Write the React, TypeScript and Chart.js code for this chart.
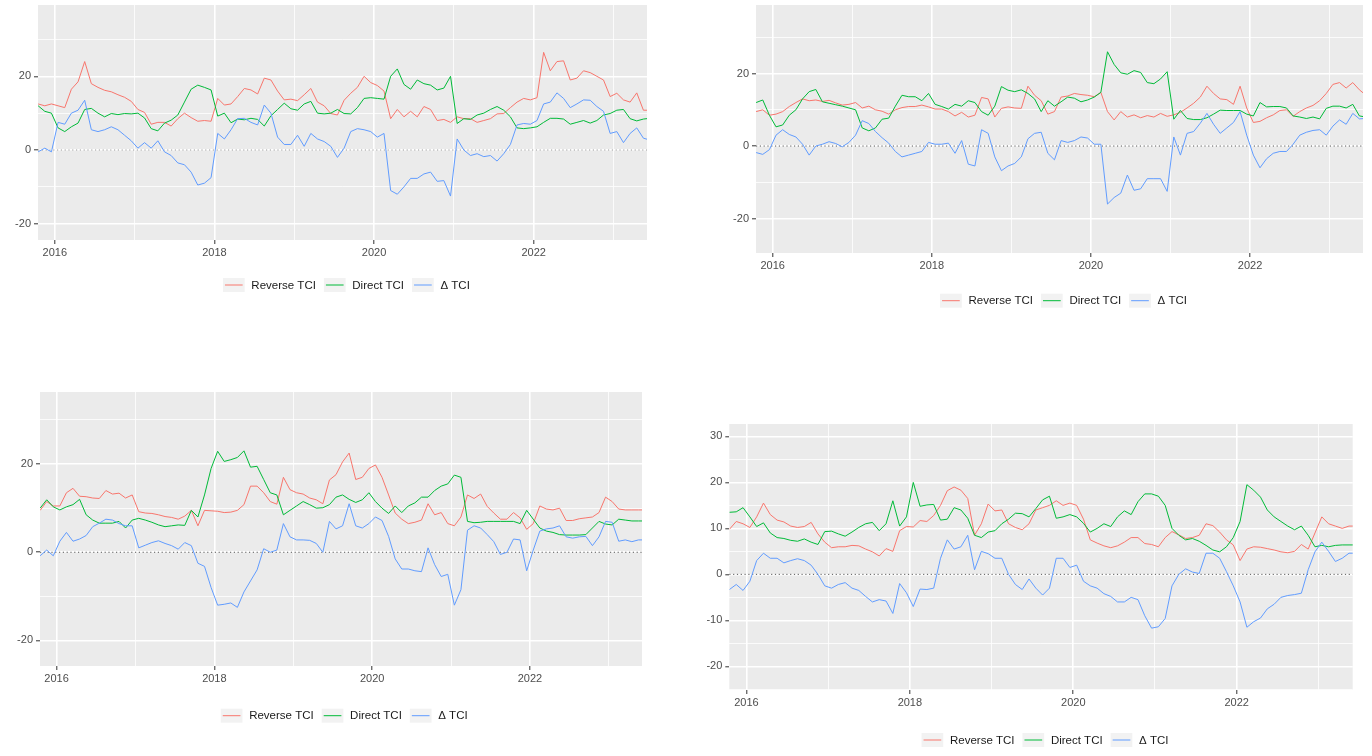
import React, { useEffect, useRef } from "react";
import { Chart, registerables } from "chart.js";

Chart.register(...registerables);

const FONT = "'Liberation Sans', Arial, Helvetica, sans-serif";

// Monthly observation dates (mid-month)
const MONTHS = [
  "2015-10", "2015-11", "2015-12",
  "2016-01", "2016-02", "2016-03", "2016-04", "2016-05", "2016-06", "2016-07", "2016-08", "2016-09", "2016-10", "2016-11", "2016-12",
  "2017-01", "2017-02", "2017-03", "2017-04", "2017-05", "2017-06", "2017-07", "2017-08", "2017-09", "2017-10", "2017-11", "2017-12",
  "2018-01", "2018-02", "2018-03", "2018-04", "2018-05", "2018-06", "2018-07", "2018-08", "2018-09", "2018-10", "2018-11", "2018-12",
  "2019-01", "2019-02", "2019-03", "2019-04", "2019-05", "2019-06", "2019-07", "2019-08", "2019-09", "2019-10", "2019-11", "2019-12",
  "2020-01", "2020-02", "2020-03", "2020-04", "2020-05", "2020-06", "2020-07", "2020-08", "2020-09", "2020-10", "2020-11", "2020-12",
  "2021-01", "2021-02", "2021-03", "2021-04", "2021-05", "2021-06", "2021-07", "2021-08", "2021-09", "2021-10", "2021-11", "2021-12",
  "2022-01", "2022-02", "2022-03", "2022-04", "2022-05", "2022-06", "2022-07", "2022-08", "2022-09", "2022-10", "2022-11", "2022-12",
  "2023-01", "2023-02", "2023-03", "2023-04", "2023-05", "2023-06",
];

const SERIES_LABELS = ["Reverse TCI", "Direct TCI", "\u0394 TCI"];
const SERIES_COLORS = ["#F8766D", "#00BA38", "#619CFF"];

const X_TICKS = [2016, 2017, 2018, 2019, 2020, 2021, 2022, 2023];
const X_LABELED = [2016, 2018, 2020, 2022];
const X_MIN = 2015.79;
const X_MAX = 2023.42;

const Y_TICKS_A = [-20, -10, 0, 10, 20, 30];
const Y_MAJOR_A = [-20, 0, 20];
const Y_TICKS_B = [-25, -20, -15, -10, -5, 0, 5, 10, 15, 20, 25, 30];
const Y_MAJOR_B = [-20, -10, 0, 10, 20, 30];

// ---------- Panel 1 (top-left) ----------
const P1_REVERSE = [
  12.5, 12, 12.5, 12, 11.5, 16.5, 18.5, 24, 18, 17,
  16.2, 15.8, 15, 14.3, 13.2, 11, 10.2, 7, 7.5, 7.5,
  6.5, 8.5, 10, 8.8, 7.8, 8, 7.8, 14, 12.2, 12.5,
  14.5, 16.7, 16.3, 15.2, 19.5, 19, 16, 13.6, 13.8, 13.4,
  15, 16.7, 13, 12, 9.9, 9.5, 13.5, 15.4, 17, 20,
  18.3, 17.5, 16, 8.5, 11, 9, 10.5, 9, 11.8, 11,
  8, 8.3, 7.5, 9, 8.5, 8.5, 7.5, 8, 8.5, 9.8,
  9.9, 11.5, 13, 14, 13.6, 14.2, 26.5, 21.5, 24, 24.2,
  19, 19.5, 21.5, 21, 20, 19, 14.5, 15.4, 13.6, 13,
  15.5, 10.8, 10.8,
];
const P1_DIRECT = [
  12, 10.5, 10, 6, 5, 6.3, 7.3, 11, 11.3, 10,
  9, 9.9, 9.6, 9.9, 9.8, 10, 8.7, 5.8, 5.2, 7.3,
  8.1, 9.5, 13, 16.5, 17.6, 17, 16.3, 9.2, 10, 7.4,
  8.4, 8.2, 8.6, 8.3, 6.5, 9.3, 11, 12.7, 11.2, 10.8,
  12.5, 13.2, 10, 9.8, 10, 11, 9.9, 9.8, 11.5, 14,
  14.2, 14, 13.8, 20, 22, 17.8, 16.5, 19, 18, 17.6,
  16.3, 16.8, 20, 7.2, 8.5, 8.3, 9.5, 10, 11, 11.8,
  10.8, 9, 6, 5.8, 6, 6.3, 7.5, 8.6, 8.6, 8.4,
  7, 7.5, 8, 7.3, 8, 9.5, 9.9, 10.8, 11, 8.5,
  7.9, 8.4, 8.6,
];
const P1_DELTA = [
  -0.5, 0.5, -0.5, 7.5, 7, 10, 10.8, 13.5, 5.5, 5,
  5.5, 6.3, 5.5, 4, 2.5, 0.5, 2, 0.5, 2.5, -0.5,
  -1.5, -3.5, -4, -6, -9.5, -9, -7.5, 4.5, 3, 5.5,
  8.5, 8.6, 7.5, 6.8, 12.2, 10, 3.5, 1.5, 1.5, 4,
  1, 4.5, 3, 2.3, 1, -2, 0.5, 5, 5.8, 5.5,
  5, 3.5, 4.5, -11, -12, -10, -7.7, -7.7, -6.5, -6,
  -8.5, -8.3, -12.5, 3, 0, -1.5, -1, -1.8, -1.5, -3,
  -1, 1.5, 6.8, 7.2, 7, 8, 12.5, 13, 15.5, 14,
  11.5, 12.5, 13.6, 13.5, 11.8, 10.5, 4.5, 5, 2, 4.5,
  6, 3.2, 2.7,
];

// ---------- Panel 2 (top-right) ----------
const P2_REVERSE = [
  9.5, 10, 8.5, 8.8, 9.5, 10.9, 12, 13, 12.5, 12.7,
  12.3, 12.6, 11.9, 11.3, 11.5, 12, 10.5, 11, 10, 9.6,
  8.8, 10, 10.6, 10.9, 10.9, 11.3, 10.8, 10.2, 10.2, 9.5,
  8.3, 9.3, 8, 8.5, 13.4, 13, 8, 10.4, 10.8, 10.5,
  10.4, 16.5, 14, 12.5, 8.8, 9.5, 13.5, 13.8, 14.5, 14.2,
  14, 13.6, 14.8, 9.5, 7.2, 9.5, 8, 8.6, 7.8, 8.4,
  8, 9, 8.2, 8.6, 9.3, 10.5, 11.8, 13.5, 16.5, 14.5,
  13, 12.8, 11.5, 16.5, 10.5, 6.5, 6.8, 7.8, 8.6, 9.8,
  10, 8.2, 9.5, 10.5, 11.2, 12.5, 14.5, 17, 17.5, 16,
  17.5, 15.5, 14,
];
const P2_DIRECT = [
  12, 12.7, 8.5, 5.3, 5.8, 8.5, 10, 13, 15, 15.6,
  12.2, 11.8, 11.4, 11, 10.5, 10, 5, 4.2, 5, 7.4,
  7.7, 11, 14, 13.6, 13.6, 12.5, 14.5, 11.5, 10.9, 10.2,
  11.5, 11, 12.5, 12, 9.5, 8.5, 11, 16.4, 15.4, 15,
  15.5, 14.5, 13, 9.5, 12.5, 11, 12.2, 13.5, 13.2, 12.2,
  12.7, 13.5, 14.8, 26, 22.5, 20.2, 19.8, 20.8, 20.3, 17.5,
  17.2, 18.5, 20.5, 7.4, 9.8, 7.6, 7.3, 7.3, 7.8, 8.8,
  9.9, 9.8, 9.8, 9.8, 8.8, 8.3, 12, 10.8, 10.9, 10.9,
  10.5, 8.3, 8, 7.6, 8, 7.5, 10.4, 11, 11, 10.5,
  11.5, 8.3, 8,
];
const P2_DELTA = [
  -1.8, -2.3, -1, 3, 4.5, 3.2, 2.5, 0.5, -2.5, 0,
  0.5, 1.2, 0.7, -0.2, 1, 3, 7, 6.2, 4, 2.3,
  0.8, -1.5, -3, -2.5, -2, -1.5, 1, 0.5, 0.5, 0.8,
  -2, 1.5, -5, -5.5, 4.5, 3.5, -3, -6.8, -5.5, -4.8,
  -3, 2, 3.5, 3.8, -2, -3.8, 1.5, 1, 1.5, 2.5,
  2.2, 0.5, 0.5, -16, -14.2, -13, -8, -12.2, -11.8, -9,
  -9, -9, -12.5, 2.5, -2.5, 3.5, 4, 6.3, 9, 6,
  3.5, 5, 6.5, 9.5, 3, -2.5, -6, -3.5, -2, -1.5,
  -1.5, 0.5, 3, 3.8, 4.3, 4.5, 3, 5.5, 7.2, 6,
  9, 7.5, 7.6,
];

// ---------- Panel 3 (bottom-left) ----------
const P3_REVERSE = [
  9.5, 11.5, 10.5, 10.5, 13.5, 14.5, 12.7, 12.6, 12.3, 12.2,
  14, 13.2, 13.4, 12.3, 13, 9.2, 8.9, 8.8, 8.5, 8.1,
  7.9, 7.5, 8.2, 9.5, 6, 9.5, 9.4, 9.3, 9, 9.1,
  9.5, 10.8, 15, 15, 13.5, 11.5, 10.9, 17, 14.2, 13.5,
  13.2, 12.3, 11.9, 11, 16.4, 17.6, 20.5, 22.5, 16.5, 17,
  19, 19.8, 17, 13, 8.9, 7.5, 6.5, 6.8, 7.3, 11,
  8.5, 9, 6.5, 6, 8, 13, 12.2, 13.2, 10.4, 8.9,
  7.5, 7.5, 9, 7.8, 5.2, 6.5, 10.5, 9.8, 9.6, 10,
  7.2, 7.2, 7.6, 7.8, 8, 9, 12.5, 11.5, 9.8, 9.6,
  9.6, 9.6, 9.6,
];
const P3_DIRECT = [
  10, 11.9, 10.3, 9.6, 10.3, 10.8, 12, 8.5, 7.3, 6.6,
  6.6, 6.6, 7, 5.5, 7.3, 7.7, 7.3, 6.8, 6.2, 5.8,
  6, 6.2, 6.1, 9.5, 8, 13, 19, 22.9, 20.6, 21,
  21.5, 23, 19.3, 19.5, 16.5, 13.5, 13, 8.5, 9.5, 10.5,
  11.5, 10.8, 10, 10.1, 10.8, 12.5, 13, 12, 11.3, 11.9,
  13.5, 11.5, 10, 8.8, 10.5, 9, 10.5, 11.2, 12.5, 12.5,
  14, 15, 15.5, 17.5, 17, 7, 6.7, 6.8, 7, 7,
  7, 7, 7, 6.5, 9.5, 7.5, 5.5, 4.8, 4.5, 4,
  3.9, 3.9, 3.9, 4, 5.5, 7, 6.4, 6.2, 7.5, 7.3,
  7.1, 7.1, 7.1,
];
const P3_DELTA = [
  -0.8, 0.5, -0.8, 2.5, 4.5, 2.5, 3, 3.8, 5.8, 6.6,
  7.5, 7.3, 6.5, 6, 6, 1, 1.6, 2.2, 2.6, 2,
  1.5, 0.7, 2.2, 1.5, -2.5, -3.2, -8, -12, -11.8, -11.5,
  -12.5, -9, -6.5, -4, 0.8, 0, 0.5, 6.5, 3.5, 2.8,
  2.8, 2.7, 2, 0, 7, 5.3, 6, 11, 6, 5.5,
  6.5, 8, 7.2, 3.6, -1.5, -3.8, -3.8, -4.2, -4.4, 1,
  -2.8, -5.5, -5, -12, -8.5, 5, 6, 5.5, 4, 2.4,
  -0.5, 0, 3, 2.8, -4.2, 0.5, 4.8, 5.3, 5.5, 6,
  3.5, 3.2, 3.5, 3.6, 1.5, 3.5, 7, 6.8, 2.5, 2.8,
  2.4, 2.8, 2.8,
];

// ---------- Panel 4 (bottom-right) ----------
const P4_REVERSE = [
  9.8, 11.5, 11, 10.2, 12.5, 15.5, 13, 11.8, 11.4, 10.5,
  10.2, 10.4, 11.3, 8.8, 7, 5.8, 6, 6, 6.3, 6.2,
  5.5, 4.9, 4, 5.6, 5, 9.5, 10.4, 10.3, 11.7, 11.5,
  12.8, 15, 18.2, 19, 18.3, 16.5, 8.5, 11, 15.3, 13.8,
  14, 11, 10.2, 9.7, 11, 14, 14.5, 15, 16, 15,
  15.5, 15, 12, 7.5, 6.8, 6.2, 5.8, 6.2, 7, 8,
  8, 6.7, 6.5, 6, 8, 9.3, 8.6, 7.8, 8, 8.5,
  11, 10.6, 9.2, 7.5, 6.4, 3, 5.5, 6, 5.9, 5.6,
  5.3, 4.9, 4.7, 5, 6.5, 5.5, 9, 12.5, 11, 10.5,
  10, 10.5, 10.5,
];
const P4_DIRECT = [
  13.5, 13.6, 14.5, 12.5, 10.4, 11.2, 9, 8, 7.8, 7.4,
  7.2, 7.7, 7, 6.5, 9.3, 9.4, 8.8, 8.3, 9.2, 10.2,
  11, 11.3, 9.5, 11, 16, 10.5, 12.5, 20, 14.8, 15.1,
  15.2, 11.8, 12, 14.5, 14, 12.2, 8.5, 8, 9.2, 9.5,
  11, 12, 13.3, 13.2, 12.5, 14.3, 16.2, 17, 12.2, 12.5,
  13, 12.5, 11.1, 9.2, 10, 11, 10.4, 12.5, 13.8, 13,
  15.8, 17.5, 17.5, 17, 15, 10, 8.5, 7.5, 7.8, 7.2,
  6.3, 5.3, 4.9, 6, 8, 11.5, 19.5, 18.3, 16.8, 14,
  12.5, 11.5, 10.5, 9.7, 10.5, 8.5, 6, 6.3, 6, 6.3,
  6.4, 6.4, 6.4,
];
const P4_DELTA = [
  -3.3, -2.2, -3.5, -1.5, 3, 4.6, 3.5, 3.5, 2.5, 3,
  3.4, 3, 2, 0, -2.5, -3, -2.2, -1.8, -3, -3.5,
  -4.8, -6, -5.5, -5.8, -8.5, -2, -4, -7, -3.2, -3.3,
  -3, 3.5, 7.5, 5.5, 6, 8.5, 1, 5, 4.5, 3.5,
  3.5, 0, -2.2, -3.3, -1, -3, -4.5, -3, 3.5, 3.5,
  1.5, 2, -1.5, -2.5, -3, -4.2, -4.8, -6, -6, -5,
  -5.5, -9, -11.7, -11.4, -9.6, -2.5, 0, 1.2, 0.5, 0.2,
  4.6, 4.6, 3.5, 0.6, -2.5, -6, -11.5, -10.3, -9.5, -7.5,
  -6.5, -5, -4.6, -4.4, -4.1, 1, 4.9, 7, 5, 2.8,
  3.5, 4.6, 4.6,
];

type PanelSpec = {
  box: { left: number; top: number; width: number; height: number };
  area: { left: number; top: number; right: number; bottom: number };
  yMin: number;
  yMax: number;
  yTicks: number[];
  yMajor: number[];
  series: number[][];
  legend: { cx: number; cy: number };
  zeroColor: string;
};

const PANELS: PanelSpec[] = [
  {
    box: { left: 0, top: 0, width: 665, height: 300 },
    area: { left: 38, top: 5, right: 647, bottom: 240 },
    yMin: -24.42, yMax: 39.35,
    yTicks: Y_TICKS_A, yMajor: Y_MAJOR_A,
    series: [P1_REVERSE, P1_DIRECT, P1_DELTA],
    legend: { cx: 346.4, cy: 285 },
    zeroColor: "#9A9A9A",
  },
  {
    box: { left: 715, top: 0, width: 657, height: 315 },
    area: { left: 41, top: 5, right: 648, bottom: 253 },
    yMin: -29.5, yMax: 38.9,
    yTicks: Y_TICKS_A, yMajor: Y_MAJOR_A,
    series: [P2_REVERSE, P2_DIRECT, P2_DELTA],
    legend: { cx: 348.5, cy: 300.7 },
    zeroColor: "#555555",
  },
  {
    box: { left: 0, top: 380, width: 660, height: 350 },
    area: { left: 40, top: 12, right: 642, bottom: 286 },
    yMin: -25.8, yMax: 36.35,
    yTicks: Y_TICKS_A, yMajor: Y_MAJOR_A,
    series: [P3_REVERSE, P3_DIRECT, P3_DELTA],
    legend: { cx: 344.2, cy: 335.7 },
    zeroColor: "#555555",
  },
  {
    box: { left: 690, top: 415, width: 682, height: 341 },
    area: { left: 39.3, top: 9, right: 662.7, bottom: 275 },
    yMin: -25.15, yMax: 32.7,
    yTicks: Y_TICKS_B, yMajor: Y_MAJOR_B,
    series: [P4_REVERSE, P4_DIRECT, P4_DELTA],
    legend: { cx: 355, cy: 325 },
    zeroColor: "#555555",
  },
];

function toYear(m: string): number {
  const [y, mo] = m.split("-").map(Number);
  return y + (mo - 0.5) / 12;
}

function Panel({ spec }: { spec: PanelSpec }) {
  const ref = useRef<HTMLCanvasElement | null>(null);

  useEffect(() => {
    const canvas = ref.current;
    if (!canvas) return;
    const { box, area } = spec;

    const decor = {
      id: "ggDecor",
      beforeDraw(chart: any) {
        const ca = chart.chartArea;
        const ctx = chart.ctx;
        ctx.save();
        ctx.fillStyle = "#EBEBEB";
        ctx.fillRect(ca.left, ca.top, ca.right - ca.left, ca.bottom - ca.top);
        ctx.restore();
      },
      beforeDatasetsDraw(chart: any) {
        const ca = chart.chartArea;
        const ctx = chart.ctx;
        const y = chart.scales.y.getPixelForValue(0);
        ctx.save();
        ctx.strokeStyle = spec.zeroColor;
        ctx.lineWidth = 1;
        ctx.setLineDash([1.2, 2.6]);
        ctx.beginPath();
        ctx.moveTo(ca.left, y);
        ctx.lineTo(ca.right, y);
        ctx.stroke();
        ctx.restore();
      },
      afterDraw(chart: any) {
        const ctx = chart.ctx;
        ctx.save();
        ctx.font = `11.5px ${FONT}`;
        const KEY_W = 21.7;
        const KEY_H = 14;
        const GAP = 6.7;
        const SEP = 8;
        const widths = SERIES_LABELS.map((t) => ctx.measureText(t).width);
        const total =
          widths.reduce((a, w) => a + KEY_W + GAP + w, 0) + SEP * (SERIES_LABELS.length - 1);
        let x = spec.legend.cx - total / 2;
        const cy = spec.legend.cy;
        SERIES_LABELS.forEach((label, i) => {
          ctx.fillStyle = "#F2F2F2";
          ctx.fillRect(x, cy - KEY_H / 2, KEY_W, KEY_H);
          ctx.strokeStyle = SERIES_COLORS[i];
          ctx.lineWidth = 1;
          ctx.beginPath();
          ctx.moveTo(x + 2, cy);
          ctx.lineTo(x + KEY_W - 2, cy);
          ctx.stroke();
          ctx.fillStyle = "#1A1A1A";
          ctx.textBaseline = "middle";
          ctx.textAlign = "left";
          ctx.fillText(label, x + KEY_W + GAP, cy + 0.5);
          x += KEY_W + GAP + widths[i] + SEP;
        });
        ctx.restore();
      },
    };

    const datasets = SERIES_LABELS.map((label, i) => ({
      label,
      data: MONTHS.map((m, j) => ({ x: toYear(m), y: spec.series[i][j] })),
      borderColor: SERIES_COLORS[i],
      backgroundColor: SERIES_COLORS[i],
      borderWidth: 1,
      pointRadius: 0,
      pointHoverRadius: 0,
      tension: 0,
      fill: false,
      order: 3 - i,
    }));

    const chart = new Chart(canvas, {
      type: "line",
      data: { datasets },
      options: {
        responsive: false,
        animation: false,
        events: [],
        layout: {
          padding: { left: 0, top: area.top, right: box.width - area.right, bottom: 0 },
        },
        plugins: {
          legend: { display: false },
          tooltip: { enabled: false },
        },
        scales: {
          x: {
            type: "linear",
            min: X_MIN,
            max: X_MAX,
            bounds: "data",
            afterBuildTicks: (s: any) => {
              s.ticks = X_TICKS.map((v) => ({ value: v }));
            },
            afterFit: (s: any) => {
              s.height = box.height - area.bottom;
              s.paddingLeft = 0;
              s.paddingRight = 0;
              s.paddingTop = 0;
              s.paddingBottom = 0;
            },
            ticks: {
              autoSkip: false,
              maxRotation: 0,
              minRotation: 0,
              padding: 2,
              color: "#4D4D4D",
              font: { family: FONT, size: 11 },
              callback: (v: any) => (X_LABELED.includes(Number(v)) ? String(v) : ""),
            },
            grid: {
              color: "#FFFFFF",
              lineWidth: (c: any) => (c.tick && X_LABELED.includes(c.tick.value) ? 1.6 : 0.8),
              drawTicks: true,
              tickLength: 4,
              tickWidth: 1,
              tickColor: (c: any) =>
                c.tick && X_LABELED.includes(c.tick.value) ? "#333333" : "rgba(0,0,0,0)",
            },
            border: { display: false },
          },
          y: {
            type: "linear",
            min: spec.yMin,
            max: spec.yMax,
            bounds: "data",
            afterBuildTicks: (s: any) => {
              s.ticks = spec.yTicks.map((v) => ({ value: v }));
            },
            afterFit: (s: any) => {
              s.width = area.left;
              s.paddingLeft = 0;
              s.paddingRight = 0;
              s.paddingTop = 0;
              s.paddingBottom = 0;
            },
            ticks: {
              autoSkip: false,
              padding: 3,
              color: "#4D4D4D",
              font: { family: FONT, size: 11 },
              callback: (v: any) => (spec.yMajor.includes(Number(v)) ? String(v) : ""),
            },
            grid: {
              color: "#FFFFFF",
              lineWidth: (c: any) => (c.tick && spec.yMajor.includes(c.tick.value) ? 1.6 : 0.8),
              drawTicks: true,
              tickLength: 4,
              tickWidth: 1,
              tickColor: (c: any) =>
                c.tick && spec.yMajor.includes(c.tick.value) ? "#333333" : "rgba(0,0,0,0)",
            },
            border: { display: false },
          },
        },
      },
      plugins: [decor],
    } as any);

    return () => {
      chart.destroy();
    };
  }, [spec]);

  return (
    <canvas
      ref={ref}
      width={spec.box.width}
      height={spec.box.height}
      style={{
        position: "absolute",
        left: spec.box.left,
        top: spec.box.top,
        width: spec.box.width,
        height: spec.box.height,
      }}
    />
  );
}

export default function App() {
  return (
    <div
      style={{
        position: "absolute",
        left: 0,
        top: 0,
        width: 1372,
        height: 756,
        background: "#FFFFFF",
        overflow: "hidden",
      }}
    >
      {PANELS.map((p, i) => (
        <Panel key={i} spec={p} />
      ))}
    </div>
  );
}
